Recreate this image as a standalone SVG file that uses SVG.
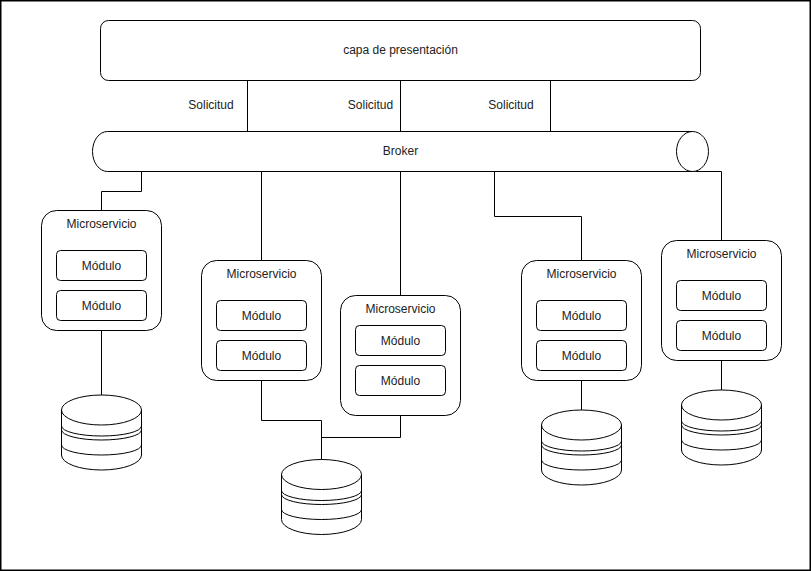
<svg xmlns="http://www.w3.org/2000/svg" xmlns:xlink="http://www.w3.org/1999/xlink" width="811" height="571" viewBox="0 0 811 571">
  <style>
    .shape { fill: #ffffff; stroke: #000000; stroke-width: 1; }
    .line { fill: none; stroke: #000000; stroke-width: 1; }
    .txt { font-family: "Liberation Sans", Arial, Helvetica, sans-serif; font-size: 12px; fill: #222222; text-anchor: middle; }
  </style>
  <defs>
    <g id="db">
      <path class="shape" d="M0,15 A40,15 0 0 1 80,15 L80,60 A40,15 0 0 1 0,60 Z"/>
      <path class="line" d="M0,15 A40,15 0 0 0 80,15"/>
      <path class="line" d="M0,31 A40,10 0 0 0 80,31"/>
      <path class="line" d="M0,35 A40,10 0 0 0 80,35"/>
      <path class="line" d="M0,50 A40,10 0 0 0 80,50"/>
    </g>
  </defs>

  <rect x="0.75" y="0.75" width="809.5" height="569.5" fill="#ffffff" stroke="#000000" stroke-width="1.5"/>

  <g id="connectors">
    <path class="line" d="M247.5,80.5 V131.5"/>
    <path class="line" d="M400.5,80.5 V131.5"/>
    <path class="line" d="M550.5,80.5 V131.5"/>
    <path class="line" d="M141.5,171.5 V191.5 H101.5 V210.5"/>
    <path class="line" d="M261.5,171.5 V260.5"/>
    <path class="line" d="M400.5,171.5 V295.5"/>
    <path class="line" d="M494.5,171.5 V216.5 H581.5 V260.5"/>
    <path class="line" d="M641.5,171.5 H721.5 V240.5"/>
    <path class="line" d="M101.5,330.5 V395"/>
    <path class="line" d="M261.5,380.5 V420.5 H321.5 V459.5"/>
    <path class="line" d="M400.5,415.5 V437.5 H321.5"/>
    <path class="line" d="M581.5,380.5 V410"/>
    <path class="line" d="M721.5,360.5 V390"/>
  </g>

  <g id="labels">
    <text class="txt" x="211" y="109">Solicitud</text>
    <text class="txt" x="370.5" y="109">Solicitud</text>
    <text class="txt" x="511" y="109">Solicitud</text>
  </g>

  <g id="presentacion">
    <rect class="shape" x="100.5" y="20.5" width="600" height="60" rx="8" ry="8"/>
    <text class="txt" x="400.5" y="54">capa de presentación</text>
  </g>

  <g id="broker">
    <path class="shape" d="M107.5,131.5 H692.5 A16,20 0 0 1 692.5,171.5 H107.5 A15,20 0 0 1 107.5,131.5 Z"/>
    <path class="line" d="M692.5,131.5 A16,20 0 0 0 692.5,171.5"/>
    <text class="txt" x="400.5" y="155">Broker</text>
  </g>

  <g id="ms1">
    <rect class="shape" x="41.5" y="210.5" width="120" height="120" rx="15" ry="15"/>
    <text class="txt" x="101.5" y="228">Microservicio</text>
    <rect class="shape" x="56.5" y="250.5" width="90" height="30" rx="4" ry="4"/>
    <text class="txt" x="101.5" y="270">Módulo</text>
    <rect class="shape" x="56.5" y="290.5" width="90" height="30" rx="4" ry="4"/>
    <text class="txt" x="101.5" y="310">Módulo</text>
  </g>

  <g id="ms2">
    <rect class="shape" x="201.5" y="260.5" width="120" height="120" rx="15" ry="15"/>
    <text class="txt" x="261.5" y="278">Microservicio</text>
    <rect class="shape" x="216.5" y="300.5" width="90" height="30" rx="4" ry="4"/>
    <text class="txt" x="261.5" y="320">Módulo</text>
    <rect class="shape" x="216.5" y="340.5" width="90" height="30" rx="4" ry="4"/>
    <text class="txt" x="261.5" y="360">Módulo</text>
  </g>

  <g id="ms3">
    <rect class="shape" x="340.5" y="295.5" width="120" height="120" rx="15" ry="15"/>
    <text class="txt" x="400.5" y="313">Microservicio</text>
    <rect class="shape" x="355.5" y="325.5" width="90" height="30" rx="4" ry="4"/>
    <text class="txt" x="400.5" y="345">Módulo</text>
    <rect class="shape" x="355.5" y="365.5" width="90" height="30" rx="4" ry="4"/>
    <text class="txt" x="400.5" y="385">Módulo</text>
  </g>

  <g id="ms4">
    <rect class="shape" x="521.5" y="260.5" width="120" height="120" rx="15" ry="15"/>
    <text class="txt" x="581.5" y="278">Microservicio</text>
    <rect class="shape" x="536.5" y="300.5" width="90" height="30" rx="4" ry="4"/>
    <text class="txt" x="581.5" y="320">Módulo</text>
    <rect class="shape" x="536.5" y="340.5" width="90" height="30" rx="4" ry="4"/>
    <text class="txt" x="581.5" y="360">Módulo</text>
  </g>

  <g id="ms5">
    <rect class="shape" x="661.5" y="240.5" width="120" height="120" rx="15" ry="15"/>
    <text class="txt" x="721.5" y="258">Microservicio</text>
    <rect class="shape" x="676.5" y="280.5" width="90" height="30" rx="4" ry="4"/>
    <text class="txt" x="721.5" y="300">Módulo</text>
    <rect class="shape" x="676.5" y="320.5" width="90" height="30" rx="4" ry="4"/>
    <text class="txt" x="721.5" y="340">Módulo</text>
  </g>

  <g id="db1"><use xlink:href="#db" x="61.5" y="395"/></g>
  <g id="db2"><use xlink:href="#db" x="281.5" y="459.5"/></g>
  <g id="db3"><use xlink:href="#db" x="541.5" y="410"/></g>
  <g id="db4"><use xlink:href="#db" x="681.5" y="390"/></g>
</svg>
